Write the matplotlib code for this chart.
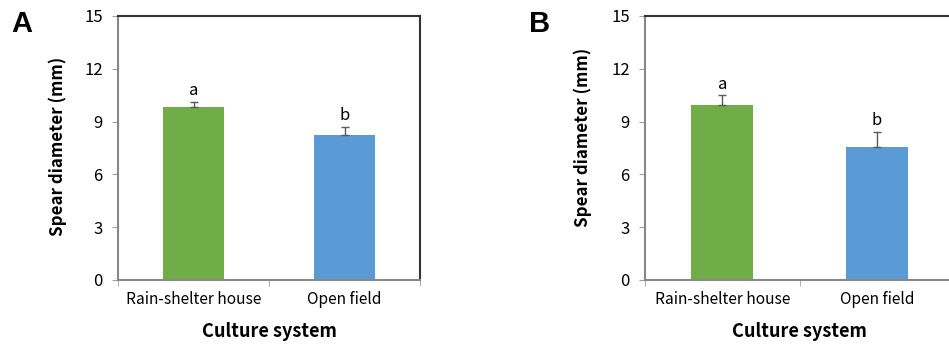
import matplotlib
matplotlib.use("Agg")
import matplotlib.pyplot as plt

categories = ["Rain-shelter house", "Open field"]
means_A = [9.83, 8.22]
errs_A = [0.28, 0.50]
means_B = [9.93, 7.54]
errs_B = [0.56, 0.89]
letters_A = ["a", "b"]
letters_B = ["a", "b"]
colors = ["#70AD47", "#5B9BD5"]
yticks = [0, 3, 6, 9, 12, 15]

FONT = ["Noto Sans CJK KR", "DejaVu Sans"]
plt.rcParams['font.family'] = FONT

W, H = 949, 350
fig = plt.figure(figsize=(W / 100, H / 100), dpi=100)

def px_axes(l, r, t, b):
    return fig.add_axes([l / W, 1 - b / H, (r - l) / W, (b - t) / H])

def draw(ax, means, errs, letters, panel, panel_x, ylab_xy):
    x = list(range(len(categories)))
    ax.bar(x, means, width=0.4, color=colors, zorder=2)
    ax.errorbar(x, means, yerr=[[0] * len(errs), errs], fmt="none",
                ecolor="#595959", elinewidth=1.0, capsize=3, capthick=1.0, zorder=3)
    for xi, m, e, lt in zip(x, means, errs, letters):
        ax.text(xi, m + e + 0.15, lt, ha="center", va="bottom", fontsize=12)
    ax.set_xlim(-0.5, 1.5)
    ax.set_ylim(0, 15)
    ax.set_yticks(yticks)
    ax.set_yticklabels([str(v) for v in yticks], fontsize=12)
    ax.set_xticks(x)
    ax.set_xticklabels(categories, fontsize=11.2)
    ax.set_xticks([-0.5, 0.5, 1.5], minor=True)
    ax.tick_params(axis="x", which="major", length=0, pad=8)
    ax.tick_params(axis="x", which="minor", length=4, color="#A0A0A0", direction="out")
    ax.tick_params(axis="y", length=4, color="#A0A0A0", direction="out", pad=7)
    for s in ["left", "bottom"]:
        ax.spines[s].set_color("#888888")
        ax.spines[s].set_linewidth(1.5)
    for s in ["top", "right"]:
        ax.spines[s].set_color("#333333")
        ax.spines[s].set_linewidth(1.5)
    ax.set_xlabel("Culture system", fontsize=13, fontweight="bold", labelpad=10)
    ax.set_ylabel("Spear diameter (mm)", fontsize=12.2, fontweight="bold")
    ax.yaxis.set_label_coords(*ylab_xy)
    fig.text(panel_x / W, 1 - 24 / H, panel, fontsize=21, fontweight="bold",
             family=["Liberation Sans", "DejaVu Sans"], ha="center", va="center")

axA = px_axes(118, 420, 16, 280)
axB = px_axes(645, 954, 16, 280)
draw(axA, means_A, errs_A, letters_A, "A", 22, (-0.169, 0.506))
draw(axB, means_B, errs_B, letters_B, "B", 540, (-0.172, 0.542))

fig.savefig("out.png", dpi=100)
